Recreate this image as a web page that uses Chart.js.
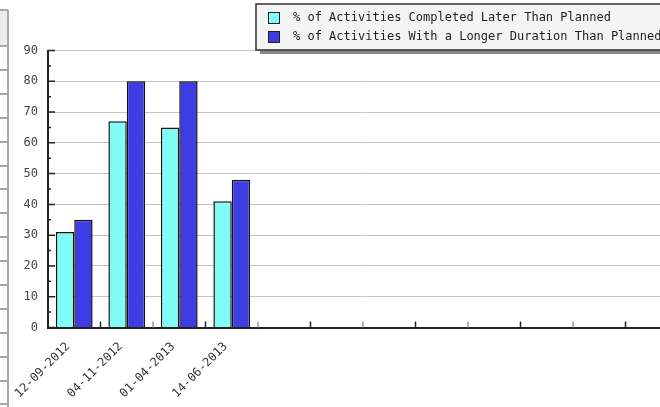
<!DOCTYPE html>
<html>
<head>
<meta charset="utf-8">
<script src="https://cdn.jsdelivr.net/npm/chart.js@4/dist/chart.umd.min.js"></script>
<style>
  html, body { margin: 0; padding: 0; background: #fff; overflow: hidden; }
  #wrap { position: relative; width: 700px; height: 407px; }
</style>
</head>
<body>
<div id="wrap"><canvas id="c"></canvas></div>
<script>
// Reporting periods (only the first four have data; the rest are empty slots)
const categories = ['12-09-2012', '04-11-2012', '01-04-2013', '14-06-2013', '', '', '', '', '', '', '', ''];
const seriesNames = [
  '% of Activities Completed Later Than Planned',
  '% of Activities With a Longer Duration Than Planned'
];
const completedLater = [31, 67, 65, 41];
const longerDuration = [35, 80, 80, 48];
const yMin = 0, yMax = 90, yStep = 10;

const seriesColors = ['#80fbf6', '#3d3de3'];
const FONT = 'DejaVu Sans Mono';

// Side panel, axis ticks and boxed legend drawn around the plot
const framePlugin = {
  id: 'frame',
  beforeDraw(chart) {
    const ctx = chart.ctx;
    ctx.save();
    // left-hand panel fragment
    ctx.fillStyle = '#ececec';
    ctx.fillRect(0, 10, 8, 36);
    ctx.strokeStyle = '#a8a8a8';
    ctx.lineWidth = 2;
    ctx.beginPath();
    ctx.moveTo(8, 10); ctx.lineTo(8, 407);
    ctx.moveTo(0, 10); ctx.lineTo(8, 10);
    for (let y = 46; y < 407; y += 23.9) {
      ctx.moveTo(0, Math.round(y)); ctx.lineTo(8, Math.round(y));
    }
    ctx.stroke();
    ctx.restore();
  },
  afterDraw(chart) {
    const ctx = chart.ctx;
    const ys = chart.scales.y, xs = chart.scales.x;
    const area = chart.chartArea;
    ctx.save();
    // inward ticks on the value axis
    ctx.strokeStyle = '#222';
    ctx.lineWidth = 1.5;
    ctx.beginPath();
    for (let v = yMin; v <= yMax; v += yStep / 2) {
      const y = ys.getPixelForValue(v);
      const len = (v % yStep === 0) ? 7 : 3;
      ctx.moveTo(area.left, y); ctx.lineTo(area.left + len, y);
    }
    ctx.stroke();
    // inward ticks between categories
    for (let i = 1; i <= categories.length; i++) {
      const x = (xs.getPixelForValue(i - 1) + xs.getPixelForValue(i)) / 2;
      ctx.strokeStyle = (i % 2 === 1) ? '#222' : '#999';
      ctx.beginPath();
      ctx.moveTo(x, area.bottom); ctx.lineTo(x, area.bottom - 6);
      ctx.stroke();
    }
    // legend box with drop shadow
    const bx = 256, by = 4, bw = 460, bh = 46;
    ctx.fillStyle = '#8a8a8a';
    ctx.fillRect(bx + 4, by + 4, bw, bh);
    ctx.fillStyle = '#f4f4f4';
    ctx.fillRect(bx, by, bw, bh);
    ctx.strokeStyle = '#333';
    ctx.lineWidth = 1.5;
    ctx.strokeRect(bx, by, bw, bh);
    ctx.font = '12px "' + FONT + '"';
    ctx.textBaseline = 'middle';
    seriesNames.forEach((name, i) => {
      const cy = by + 14 + i * 19;
      ctx.fillStyle = seriesColors[i];
      ctx.fillRect(268, cy - 6, 12, 12);
      ctx.strokeStyle = '#222';
      ctx.lineWidth = 1;
      ctx.strokeRect(268.5, cy - 5.5, 11, 11);
      ctx.fillStyle = '#222';
      ctx.fillText(name, 293, cy);
    });
    ctx.restore();
  }
};

new Chart(document.getElementById('c'), {
  type: 'bar',
  data: {
    labels: categories,
    datasets: [
      { label: seriesNames[0], data: completedLater, backgroundColor: seriesColors[0],
        borderColor: '#111', borderWidth: 1.5, borderSkipped: 'bottom' },
      { label: seriesNames[1], data: longerDuration, backgroundColor: seriesColors[1],
        borderColor: '#111', borderWidth: 1.5, borderSkipped: 'bottom' }
    ]
  },
  options: {
    responsive: true,
    maintainAspectRatio: false,
    animation: false,
    layout: { padding: { top: 50.5, right: 22, left: 0, bottom: 0 } },
    datasets: { bar: { categoryPercentage: 0.7, barPercentage: 1.0 } },
    plugins: { legend: { display: false }, tooltip: { enabled: false } },
    scales: {
      x: {
        grid: { display: false, drawTicks: false },
        border: { display: true, color: '#222', width: 2 },
        ticks: {
          autoSkip: false, minRotation: 45, maxRotation: 45, padding: 12, labelOffset: -6,
          color: '#333', font: { family: FONT, size: 12 }
        },
        afterFit(scale) { scale.height = 79.5; }
      },
      y: {
        min: yMin, max: yMax,
        grid: { color: '#c4c4c4', lineWidth: 1, drawTicks: false },
        border: { display: true, color: '#222', width: 2 },
        ticks: { stepSize: yStep, padding: 10, color: '#444', font: { family: FONT, size: 12 } },
        afterFit(scale) { scale.width = 48; }
      }
    }
  },
  plugins: [framePlugin]
});
</script>
</body>
</html>
